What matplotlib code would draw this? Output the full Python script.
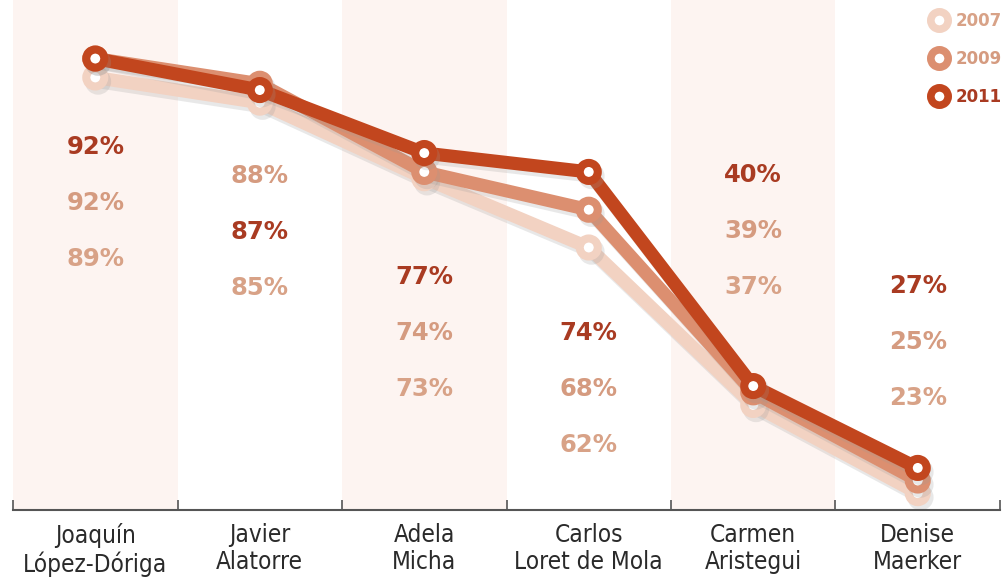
import matplotlib
matplotlib.use("Agg")
import matplotlib.pyplot as plt
import matplotlib.patheffects as pe
from matplotlib.lines import Line2D

# data
presenters = ["Joaquín\nLópez-Dóriga", "Javier\nAlatorre", "Adela\nMicha",
              "Carlos\nLoret de Mola", "Carmen\nAristegui", "Denise\nMaerker"]
years = ["2007", "2009", "2011"]
vals_2007 = [89, 85, 73, 62, 37, 23]
vals_2009 = [92, 88, 74, 68, 39, 25]
vals_2011 = [92, 87, 77, 74, 40, 27]

# styling / layout
line_colors = {"2007": "#f2d2c2", "2009": "#dc8f70", "2011": "#c2461e"}
text_colors = {"2007": "#d8a287", "2009": "#d59b80", "2011": "#a93b22"}
shade = "#fdf4f1"
label_top = [78.0, 73.4, 57.3, 48.4, 73.5, 55.9]  # y (data units) of first label per column
label_step = 8.9

fig = plt.figure(figsize=(10.03, 5.83), dpi=100)
ax = fig.add_axes([0.013, 0.125, 0.984, 0.875])

n = len(presenters)
xs = list(range(n))
for i in range(0, n, 2):
    ax.axvspan(i - 0.5, i + 0.5, color=shade, lw=0, zorder=0)

series = {"2007": vals_2007, "2009": vals_2009, "2011": vals_2011}
shadow = [pe.SimpleLineShadow(offset=(2, -3), shadow_color="#999999", alpha=0.22), pe.Normal()]
for k, yr in enumerate(years):
    ax.plot(xs, series[yr], color=line_colors[yr], lw=9.5, solid_capstyle="round",
            solid_joinstyle="round", marker="o", ms=13, mew=5.8,
            mfc="white", mec=line_colors[yr], zorder=2 + k, path_effects=shadow)

# stacked percentage labels, sorted by value (highest on top)
for i in range(n):
    entries = sorted(((series[yr][i], yr) for yr in years), key=lambda t: (-t[0], -int(t[1])))
    for j, (v, yr) in enumerate(entries):
        ax.text(i, label_top[i] - j * label_step, f"{v}%", ha="center", va="center",
                fontsize=17.5, fontweight="bold", color=text_colors[yr], zorder=6)

ax.set_xlim(-0.5, n - 0.5)
ax.set_ylim(20.3, 101.3)
for s in ["top", "right", "left"]:
    ax.spines[s].set_visible(False)
ax.spines["bottom"].set_color("#555555")
ax.spines["bottom"].set_linewidth(1.5)
ax.set_yticks([])
ax.set_xticks(xs)
ax.set_xticklabels(presenters, fontsize=17.5, color="#2a2a2a", linespacing=1.2,
                   fontstretch="condensed")
ax.tick_params(axis="x", which="major", length=0, pad=9)
ax.set_xticks([i - 0.5 for i in range(n + 1)], minor=True)
ax.tick_params(axis="x", which="minor", direction="in", length=7, width=1.2, color="#555555")

handles = [Line2D([], [], ls="none", marker="o", ms=12.5, mew=5.5, mfc="white",
                  mec=line_colors[yr]) for yr in years]
ax.legend(handles, years, loc="upper right", bbox_to_anchor=(1.012, 0.997), frameon=False,
          labelcolor=[text_colors[yr] for yr in years], prop={"weight": "bold", "size": 12},
          handletextpad=0.2, labelspacing=1.2, borderaxespad=0.2, handlelength=1.6)

fig.savefig("out.png", dpi=100)
